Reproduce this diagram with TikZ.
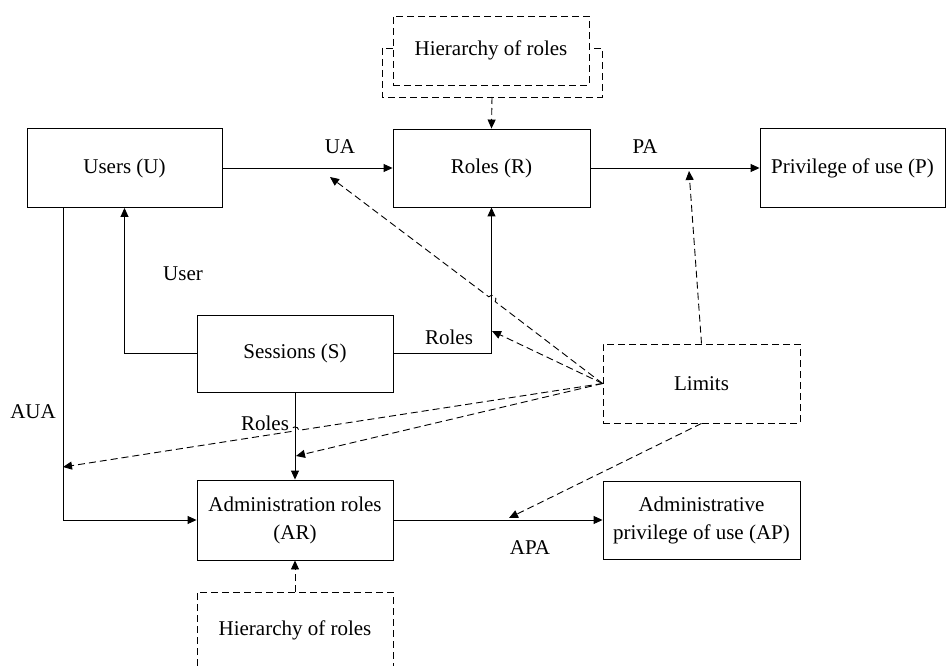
\documentclass[tikz,border=0pt]{standalone}
\usepackage{fontspec}
\setmainfont{Liberation Serif}
\usetikzlibrary{arrows.meta,calc}
\begin{document}
\begin{tikzpicture}[x=1pt,y=1pt,
  box/.style={draw, line width=0.9pt, rectangle, inner sep=0pt, align=center, font=\fontsize{21}{28}\selectfont},
  dbox/.style={box, dash pattern=on 7pt off 4pt},
  lbl/.style={font=\fontsize{21}{25}\selectfont, inner sep=0pt},
  dline/.style={line width=0.9pt, dash pattern=on 7pt off 4pt},
  sol/.style={line width=0.9pt, -{Triangle[length=9pt,width=8pt]}},
  dsh/.style={dline, -{Triangle[length=9pt,width=8pt]}},
]
\useasboundingbox (0,0) rectangle (946,-666);
% boxes
\node[box, minimum width=195pt, minimum height=79pt] (U) at (124.5,-168) {Users (U)};
\node[box, minimum width=197pt, minimum height=78pt] (R) at (491.5,-168) {Roles (R)};
\node[box, minimum width=185pt, minimum height=79pt] (P) at (852.5,-168) {Privilege of use (P)};
\node[box, minimum width=196pt, minimum height=77pt] (S) at (295,-353.5) {Sessions (S)};
\node[dbox, minimum width=197pt, minimum height=79pt] (L) at (701.5,-383.5) {Limits};
\node[box, minimum width=196pt, minimum height=80pt] (AR) at (295,-520) {Administration roles\\(AR)};
\node[box, minimum width=197pt, minimum height=78pt] (AP) at (701.5,-520) {Administrative\\privilege of use (AP)};
\node[dbox, minimum width=196pt, minimum height=69pt] (H1) at (491,-50.5) {Hierarchy of roles};
\node[lbl] (H2) at (295,-630) {Hierarchy of roles};
% outer frame of top hierarchy
\coordinate (H1b) at (492,-97);
\draw[dline] (393,-48) -- (382,-48) -- (382,-97) -- (602,-97) -- (602,-48) -- (589,-48);
% open frame of bottom hierarchy
\coordinate (H2t) at (295,-592);
\draw[dline] (197,-666) -- (197,-592) -- (393,-592) -- (393,-666);
% solid connectors
\draw[sol] (U.east) -- (R.west);
\draw[sol] (R.east) -- (P.west);
\draw[sol] (S.west) -| (U.south);
\draw[sol] (S.east) -| (R.south);
\draw[sol] (S.south) -- (AR.north);
\coordinate (aua) at (63,-207.5);
\draw[sol] (aua) |- (AR.west);
\draw[sol] (AR.east) -- (AP.west);
% dashed connectors
\draw[dsh] (H1b) -- (R.north);
\draw[dsh] (H2t) -- (AR.south);
\coordinate (ua) at (330,-177);
\coordinate (C1) at (492,-299.2);
\draw[dsh] (L.west) -- ($(C1)!4pt!(L.west)$) arc[start angle=-37, end angle=143, radius=4pt] -- (ua);
\coordinate (rl) at (492,-331);
\draw[dsh] (L.west) -- (rl);
\coordinate (au) at (63,-467);
\coordinate (C3) at (295,-430.9);
\draw[dsh] (L.west) -- ($(C3)!4pt!(L.west)$) arc[start angle=8.84, end angle=188.84, radius=4pt] -- (au);
\coordinate (sr) at (296,-456);
\draw[dsh] (L.west) -- (sr);
\coordinate (pa) at (689,-171);
\draw[dsh] (L.north) -- (pa);
\coordinate (apa) at (509,-518);
\draw[dsh] (L.south) -- (apa);
% labels
\node[lbl] (tUA) at (340,-147) {UA};
\node[lbl] (tPA) at (645,-147) {PA};
\node[lbl] (tUser) at (183,-274) {User};
\node[lbl] (tRoles1) at (449,-337) {Roles};
\node[lbl] (tRoles2) at (265,-423) {Roles};
\node[lbl] (tAUA) at (33,-412) {AUA};
\node[lbl] (tAPA) at (530,-548) {APA};
\end{tikzpicture}
\end{document}
